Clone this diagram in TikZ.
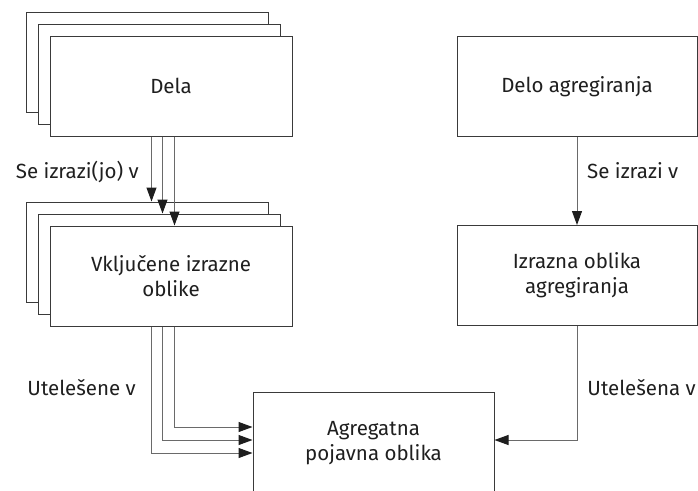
\documentclass[tikz,border=0pt]{standalone}
\usepackage{fontspec}
\setmainfont{Fira Sans}
\usetikzlibrary{arrows.meta}
\definecolor{boxline}{HTML}{3A3A3A}
\definecolor{connline}{HTML}{6A6A6A}
\definecolor{tipfill}{HTML}{1E1E1E}
\begin{document}
\begin{tikzpicture}[x=1pt,y=-1pt,
  txt/.style={font=\fontsize{20.5}{25}\selectfont, text=black!88},
  box/.style={txt, draw=boxline, line width=1pt, fill=white,
    minimum width=242pt, minimum height=100pt, inner sep=0pt, align=center},
  lbl/.style={txt, inner sep=0pt},
  arr/.style={draw=connline, line width=1pt,
    -{Triangle[length=14pt,width=10pt,fill=tipfill,color=tipfill]}}]
\clip (0,0) rectangle (698,490);

% stacked source works
\node[box] (delaC) at (147,62) {};
\node[box] (delaB) at (159,74) {};
\node[box] (dela)  at (171,86) {Dela};

% stacked embodied expressions
\node[box] (vkC) at (147,252) {};
\node[box] (vkB) at (159,264) {};
\node[box] (vk)  at (171,276) {Vključene izrazne\\oblike};

% aggregating work and its expression
\node[box, minimum width=240pt] (delo) at (577,86.5) {Delo agregiranja};
\node[box, minimum width=240pt] (izr)  at (577,275.5) {Izrazna oblika\\agregiranja};

% aggregate manifestation
\node[box, minimum width=241pt, minimum height=102pt] (agr) at (373.5,443) {Agregatna\\pojavna oblika};

% works expressed in expressions
\draw[arr] ([xshift=102pt]dela.south west) -- ([xshift=102pt]dela.south west |- vkC.north);
\draw[arr] ([xshift=113pt]dela.south west) -- ([xshift=113pt]dela.south west |- vkB.north);
\draw[arr] ([xshift=125pt]dela.south west) -- ([xshift=125pt]dela.south west |- vk.north);

% expressions embodied in the manifestation
\draw[arr] ([xshift=102pt]vk.south west) |- ([yshift=-10pt]agr.west);
\draw[arr] ([xshift=113pt]vk.south west) |- ([yshift=3pt]agr.west);
\draw[arr] ([xshift=125pt]vk.south west) |- ([yshift=16pt]agr.west);

% aggregating branch
\draw[arr] (delo.south) -- (izr.north);
\draw[arr] (izr.south) |- ([yshift=3pt]agr.east);

% relationship labels
\node[lbl, anchor=base east] (l1) at (139,178) {Se izrazi(jo) v};
\node[lbl, anchor=base east] (l2) at (136,395) {Utelešene v};
\node[lbl, anchor=base west] (l3) at (587,178) {Se izrazi v};
\node[lbl, anchor=base east] (l4) at (696,395) {Utelešena v};
\end{tikzpicture}
\end{document}
